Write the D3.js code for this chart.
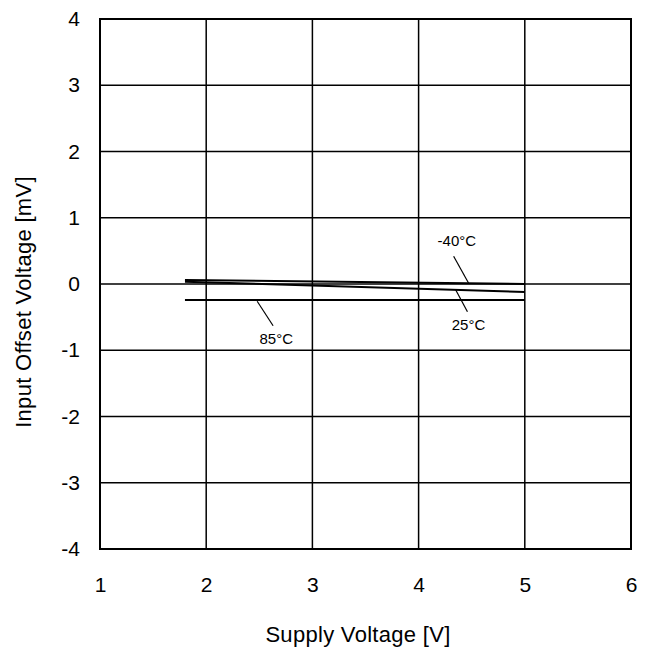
<!DOCTYPE html>
<html lang="en">
<head>
<meta charset="UTF-8">
<title>Input Offset Voltage vs Supply Voltage</title>
<style>
  body { margin: 0; background: #fff; }
  text { font-family: "Liberation Sans", Arial, sans-serif; fill: #000; }
</style>
</head>
<body>
<script src="https://d3js.org/d3.v7.min.js"></script>
<script>
    // data
    let xTicks = [1, 2, 3, 4, 5, 6];
    let yTicks = [-4, -3, -2, -1, 0, 1, 2, 3, 4];
    let supplyV = [1.8, 5.0];
    let offsetM40 = [0.06, 0.0];
    let offset25 = [0.035, -0.12];
    let offset85 = [-0.24, -0.24];

    // label text, position in data units, and leader line end points
    let labels = [
        {text: "-40°C", x: 4.36, y: 0.63, lx: [4.33, 4.47], ly: [0.42, 0.015]},
        {text: "25°C", x: 4.47, y: -0.63, lx: [4.46, 4.35], ly: [-0.42, -0.09]},
        {text: "85°C", x: 2.66, y: -0.85, lx: [2.63, 2.48], ly: [-0.63, -0.26]}
    ];

    let margin = {top: 19, right: 19, bottom: 103, left: 100},
        width = 650 - margin.left - margin.right,
        height = 652 - margin.top - margin.bottom;

    let svg = d3.select('body')
        .append('svg')
        .attr('width', 650)
        .attr('height', 652);

    let g = svg.append('g')
        .attr('transform', 'translate(' + margin.left + ',' + margin.top + ')');

    let x = d3.scaleLinear().domain([1, 6]).range([0, width]);
    let y = d3.scaleLinear().domain([-4, 4]).range([height, 0]);

    // grid
    g.selectAll('.vgrid')
        .data(xTicks)
        .enter()
        .append('line')
        .attr('x1', d => x(d)).attr('x2', d => x(d))
        .attr('y1', 0).attr('y2', height)
        .attr('stroke', '#000').attr('stroke-width', 1.5);

    g.selectAll('.hgrid')
        .data(yTicks)
        .enter()
        .append('line')
        .attr('x1', 0).attr('x2', width)
        .attr('y1', d => y(d)).attr('y2', d => y(d))
        .attr('stroke', '#000').attr('stroke-width', 1.5);

    g.append('rect')
        .attr('width', width).attr('height', height)
        .attr('fill', 'none').attr('stroke', '#000').attr('stroke-width', 2);

    // axes (tick labels only), plain hyphen for the minus sign
    let fmt = d => String(d);
    let xAxis = g.append('g')
        .attr('transform', 'translate(0,' + height + ')')
        .call(d3.axisBottom(x).tickValues(xTicks).tickSize(0).tickPadding(28).tickFormat(fmt));
    let yAxis = g.append('g')
        .call(d3.axisLeft(y).tickValues(yTicks).tickSize(0).tickPadding(20).tickFormat(fmt));
    [xAxis, yAxis].forEach(a => {
        a.select('.domain').remove();
        a.attr('font-size', null).attr('font-family', null);
        a.selectAll('text').style('font-size', '21px');
    });

    // series
    let line = d3.line().x(d => x(d[0])).y(d => y(d[1]));
    [offsetM40, offset25, offset85].forEach(vals => {
        g.append('path')
            .datum(d3.zip(supplyV, vals))
            .attr('d', line)
            .attr('fill', 'none')
            .attr('stroke', '#000')
            .attr('stroke-width', 2);
    });

    // annotations
    labels.forEach(l => {
        g.append('line')
            .attr('x1', x(l.lx[0])).attr('x2', x(l.lx[1]))
            .attr('y1', y(l.ly[0])).attr('y2', y(l.ly[1]))
            .attr('stroke', '#000').attr('stroke-width', 1.2);
        g.append('text')
            .attr('x', x(l.x)).attr('y', y(l.y))
            .attr('text-anchor', 'middle')
            .attr('dominant-baseline', 'middle')
            .style('font-size', '15px')
            .text(l.text);
    });

    // axis titles
    svg.append('text')
        .attr('x', 358)
        .attr('y', 642)
        .attr('text-anchor', 'middle')
        .style('font-size', '22px')
        .style('letter-spacing', '0.3px')
        .text('Supply Voltage [V]');

    svg.append('text')
        .attr('transform', 'translate(31,302) rotate(-90)')
        .attr('text-anchor', 'middle')
        .style('font-size', '22px')
        .style('letter-spacing', '0.3px')
        .text('Input Offset Voltage [mV]');
</script>
</body>
</html>
